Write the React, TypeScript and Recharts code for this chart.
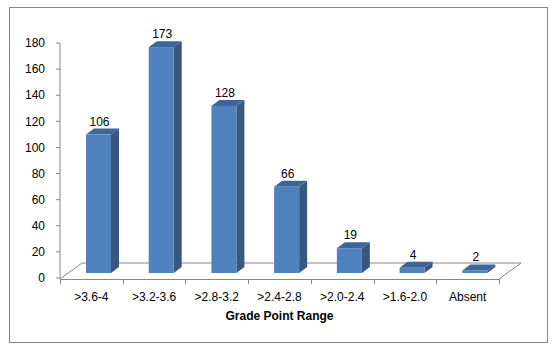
import React from 'react';
import { BarChart, Bar, XAxis, YAxis, LabelList, Customized } from 'recharts';

// Grade point ranges and number of students
const categories = ['>3.6-4', '>3.2-3.6', '>2.8-3.2', '>2.4-2.8', '>2.0-2.4', '>1.6-2.0', 'Absent'];
const students = [106, 173, 128, 66, 19, 4, 2];
const yTicks = [0, 20, 40, 60, 80, 100, 120, 140, 160, 180];

const data = categories.map((range, i) => ({ range, value: students[i] }));

const W = 557;
const H = 352;
const MARGIN = { top: 43, right: 58, bottom: 0, left: 0 };
const Y_AXIS_W = 60;
const X_AXIS_H = 74;

// 3D look: bars sit a bit back on the floor
const PLACE_X = 7;
const PLACE_Y = -5;
const DEPTH_X = 8;
const DEPTH_Y = -6;
const FLOOR_X = 22;
const FLOOR_Y = -16;

const FONT = '"Liberation Sans", Arial, sans-serif';
const GRID = '#868686';

const Bar3D = (props: any) => {
  const { x, y, width, height } = props;
  const fx = x + PLACE_X;
  const fy = y + PLACE_Y;
  const right = fx + width;
  const bottom = fy + height;
  return (
    <g>
      <polygon
        points={`${right},${fy} ${right + DEPTH_X},${fy + DEPTH_Y} ${right + DEPTH_X},${bottom + DEPTH_Y} ${right},${bottom}`}
        fill="#36587F"
      />
      <polygon
        points={`${fx},${fy} ${fx + DEPTH_X},${fy + DEPTH_Y} ${right + DEPTH_X},${fy + DEPTH_Y} ${right},${fy}`}
        fill="#3E6597"
      />
      <rect x={fx} y={fy} width={width} height={height} fill="#4F81BD" />
    </g>
  );
};

const ValueLabel = (props: any) => {
  const { x, y, width, value } = props;
  return (
    <text
      x={x + PLACE_X + width / 2 + 1}
      y={y + PLACE_Y - 9}
      textAnchor="middle"
      fontSize={12}
      fontFamily={FONT}
      fill="#000"
    >
      {value}
    </text>
  );
};

// floor of the 3D plot, with the category tick marks on its front edge
const Floor = () => {
  const left = MARGIN.left + Y_AXIS_W;
  const right = W - MARGIN.right;
  const base = H - X_AXIS_H + 1;
  const step = (right - left) / categories.length;
  const ticks = Array.from({ length: categories.length + 1 }, (_, i) => left + i * step);
  return (
    <g stroke={GRID} strokeWidth={1} fill="none">
      <rect x={9.5} y={7.5} width={538} height={335} />
      <polyline
        points={`${left},${base} ${left + FLOOR_X},${base + FLOOR_Y} ${right + FLOOR_X},${base + FLOOR_Y} ${right},${base}`}
      />
      <line x1={left} y1={base + 0.5} x2={right} y2={base + 0.5} />
      {ticks.map((t, i) => (
        <line key={i} x1={Math.round(t) + 0.5} y1={base} x2={Math.round(t) + 0.5} y2={base + 5} />
      ))}
    </g>
  );
};

export default function App() {
  return (
    <div style={{ position: 'absolute', left: 0, top: 0, width: W, height: H, background: '#fff' }}>
      <BarChart width={W} height={H} data={data} margin={MARGIN} barSize={25}>
        <Customized component={Floor} />
        <YAxis
          width={Y_AXIS_W}
          domain={[0, 180]}
          ticks={yTicks}
          interval={0}
          tickSize={4}
          tickMargin={11}
          stroke={GRID}
          tick={{ fill: '#000', fontSize: 12, fontFamily: FONT }}
        />
        <XAxis
          dataKey="range"
          height={X_AXIS_H}
          axisLine={false}
          tickLine={false}
          tickSize={6}
          tickMargin={8}
          interval={0}
          tick={{ fill: '#000', fontSize: 12, fontFamily: FONT }}
          label={{
            value: 'Grade Point Range',
            position: 'insideBottom',
            offset: 32,
            fill: '#000',
            fontSize: 12,
            fontWeight: 'bold',
            fontFamily: FONT,
          }}
        />
        <Bar dataKey="value" shape={<Bar3D />} isAnimationActive={false}>
          <LabelList dataKey="value" content={<ValueLabel />} />
        </Bar>
      </BarChart>
    </div>
  );
}
